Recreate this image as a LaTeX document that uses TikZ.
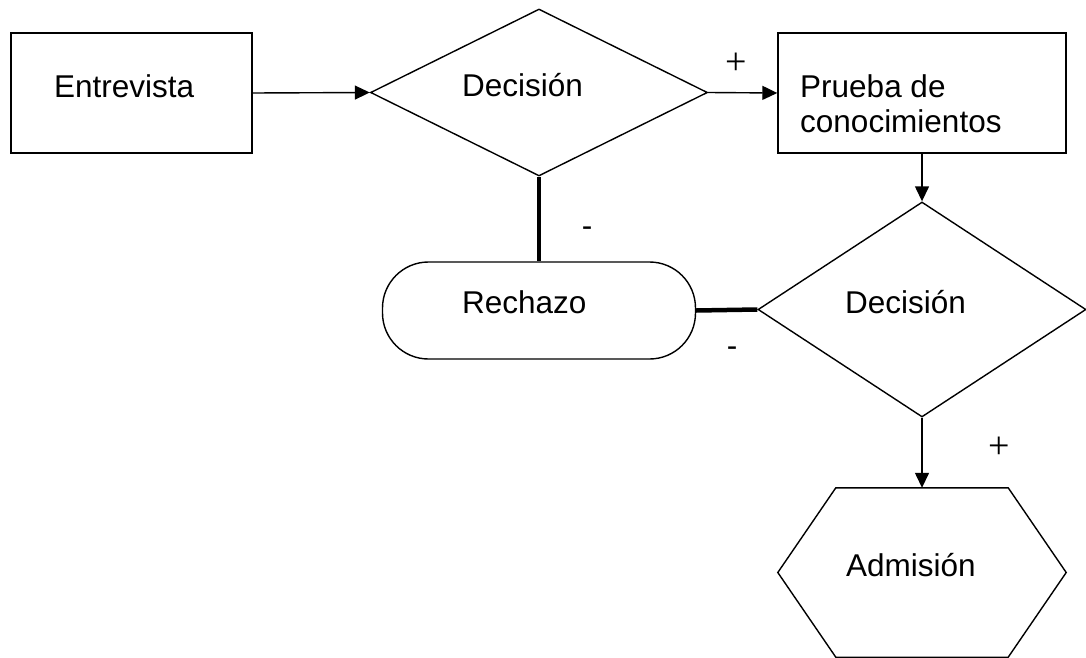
\documentclass[tikz,border=0pt]{standalone}
\usepackage{fontspec}
\setmainfont{Liberation Sans}
\newfontfamily\serifplus{Liberation Serif}
\usetikzlibrary{shapes.geometric,arrows.meta,calc}
\begin{document}
\begin{tikzpicture}[x=1pt,y=-1pt,
  shapeline/.style={draw=black,line width=1.4pt},
  lbl/.style={anchor=base west,inner sep=0pt,font=\fontsize{31.5}{35}\selectfont},
  arr/.style={draw=black,line width=1.4pt,-{Triangle[length=15pt,width=14pt]}},
  heavyline/.style={draw=black,line width=4.5pt},
  plussign/.style={inner sep=0pt,font=\serifplus\fontsize{38}{38}\selectfont},
  minussign/.style={inner sep=0pt,font=\fontsize{31.5}{35}\selectfont}]
\useasboundingbox (0,0) rectangle (1086,658);
% shapes
\node[shapeline, minimum width=241pt, minimum height=120pt, inner sep=0pt] (e) at (131.5,93) {};
\node[shapeline, diamond, minimum width=337pt, minimum height=167pt, inner sep=0pt] (d1) at (539,92.5) {};
\node[shapeline, minimum width=288pt, minimum height=120pt, inner sep=0pt] (p) at (922,93) {};
\node[shapeline, diamond, minimum width=328pt, minimum height=215pt, inner sep=0pt] (d2) at (922,309.5) {};
\node[shapeline, rounded corners=46pt, minimum width=313pt, minimum height=97pt, inner sep=0pt] (r) at (539,310.5) {};
\node[minimum width=288pt, minimum height=169pt, inner sep=0pt] (a) at (922,572.5) {};
\draw[shapeline] ($(a.north west)+(58,0)$) -- ($(a.north east)+(-58,0)$) -- (a.east)
  -- ($(a.south east)+(-58,0)$) -- ($(a.south west)+(58,0)$) -- (a.west) -- cycle;
% texts
\node[lbl] (te) at (54,98) {Entrevista};
\node[lbl] (td1) at (462,97) {Decisión};
\node[lbl] (tp) at (800,98) {\begin{tabular}[t]{@{}l@{}}Prueba de\\conocimientos\end{tabular}};
\node[lbl] (tr) at (462,313) {Rechazo};
\node[lbl] (td2) at (845,313) {Decisión};
\node[lbl] (ta) at (846,576) {Admisión};
% connectors
\draw[arr] (e.east) -- (d1.west);
\draw[arr] (d1.east) -- (p.west);
\draw[arr] (p.south) -- (d2.north);
\draw[heavyline] (d1.south) -- (r.north);
\draw[heavyline] (r.east) -- (d2.west);
\draw[arr] (d2.south) -- (a.north);
% signs
\node[plussign] (s1) at (736,64) {+};
\node[plussign] (s2) at (999,448) {+};
\node[minussign] (s3) at (587,232) {-};
\node[minussign] (s4) at (732,352) {-};
\end{tikzpicture}
\end{document}
